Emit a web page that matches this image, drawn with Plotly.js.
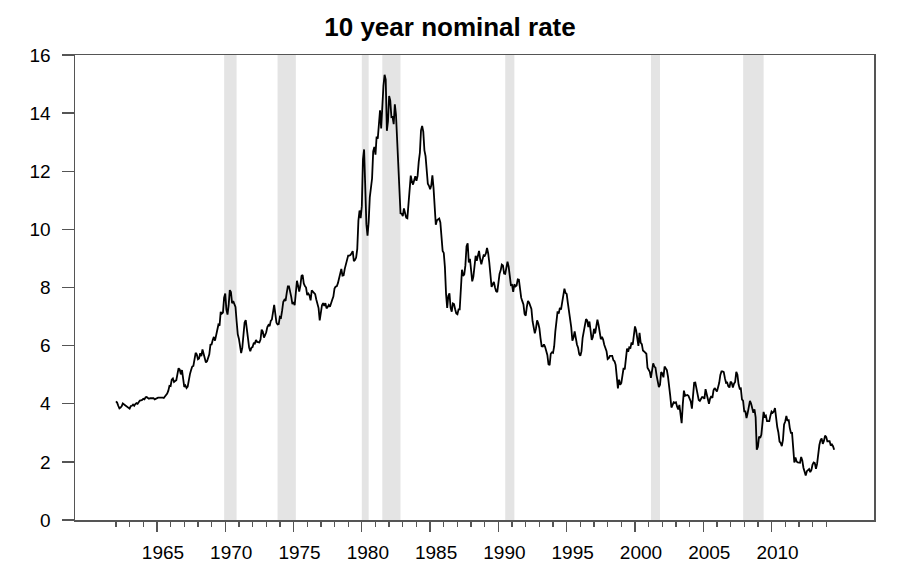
<!DOCTYPE html>
<html>
<head>
<meta charset="utf-8">
<script src="https://cdn.plot.ly/plotly-3.0.1.min.js"></script>
<style>
  html, body { margin: 0; padding: 0; background: #fff; }
  #chart { width: 900px; height: 580px; }
</style>
</head>
<body>
<div id="chart"></div>
<script>
const FIRST_YEAR = 1962;

// monthly 10 year rate, %, Jan 1962 .. Aug 2014
const rates = [
  4.08, 4.04, 3.93, 3.84, 3.87, 3.91, 4.01, 3.98, 3.98, 3.93, 3.92, 3.86, // 1962
  3.83, 3.92, 3.93, 3.97, 3.93, 3.99, 4.02, 4.00, 4.08, 4.11, 4.12, 4.13, // 1963
  4.17, 4.15, 4.22, 4.23, 4.20, 4.17, 4.19, 4.19, 4.20, 4.19, 4.15, 4.18, // 1964
  4.19, 4.21, 4.21, 4.20, 4.21, 4.21, 4.20, 4.25, 4.29, 4.35, 4.45, 4.62, // 1965
  4.61, 4.83, 4.87, 4.75, 4.78, 4.81, 5.02, 5.22, 5.18, 5.01, 5.16, 4.84, // 1966
  4.58, 4.63, 4.54, 4.59, 4.85, 5.02, 5.16, 5.28, 5.30, 5.48, 5.75, 5.70, // 1967
  5.53, 5.56, 5.74, 5.64, 5.87, 5.72, 5.50, 5.42, 5.46, 5.58, 5.70, 6.03, // 1968
  6.04, 6.19, 6.30, 6.17, 6.32, 6.57, 6.72, 6.69, 7.16, 7.10, 7.14, 7.65, // 1969
  7.79, 7.24, 7.07, 7.39, 7.91, 7.84, 7.46, 7.53, 7.39, 7.33, 6.84, 6.39, // 1970
  6.24, 6.00, 5.74, 5.93, 6.53, 6.80, 6.88, 6.58, 6.14, 5.93, 5.81, 5.93, // 1971
  5.95, 6.08, 6.07, 6.19, 6.13, 6.11, 6.11, 6.21, 6.55, 6.48, 6.28, 6.36, // 1972
  6.46, 6.64, 6.71, 6.67, 6.85, 6.90, 7.13, 7.40, 7.09, 6.79, 6.73, 6.74, // 1973
  6.99, 6.96, 7.21, 7.51, 7.58, 7.54, 7.81, 8.04, 8.04, 7.90, 7.68, 7.43, // 1974
  7.50, 7.39, 7.73, 8.23, 8.06, 7.86, 8.06, 8.40, 8.43, 8.14, 8.05, 8.00, // 1975
  7.74, 7.79, 7.73, 7.56, 7.90, 7.86, 7.83, 7.77, 7.59, 7.41, 7.29, 6.87, // 1976
  7.21, 7.39, 7.46, 7.37, 7.46, 7.28, 7.33, 7.40, 7.34, 7.52, 7.58, 7.69, // 1977
  7.96, 8.03, 8.04, 8.15, 8.35, 8.46, 8.64, 8.41, 8.42, 8.64, 8.81, 9.01, // 1978
  9.10, 9.10, 9.12, 9.18, 9.25, 8.91, 8.95, 9.03, 9.33, 10.30, 10.65, 10.39, // 1979
  10.80, 12.41, 12.75, 11.47, 10.18, 9.78, 10.25, 11.10, 11.51, 11.75, 12.68, 12.84, // 1980
  12.57, 13.19, 13.12, 13.68, 14.10, 13.47, 14.28, 14.94, 15.32, 15.15, 13.39, 13.72, // 1981
  14.59, 14.43, 13.86, 13.87, 13.62, 14.30, 13.95, 13.06, 12.34, 10.91, 10.55, 10.54, // 1982
  10.46, 10.72, 10.51, 10.40, 10.38, 10.85, 11.38, 11.85, 11.65, 11.54, 11.69, 11.83, // 1983
  11.67, 11.84, 12.32, 12.63, 13.41, 13.56, 13.36, 12.72, 12.52, 12.16, 11.57, 11.50, // 1984
  11.38, 11.51, 11.86, 11.43, 10.85, 10.16, 10.31, 10.33, 10.37, 10.24, 9.78, 9.26, // 1985
  9.19, 8.70, 7.78, 7.30, 7.71, 7.80, 7.30, 7.17, 7.45, 7.43, 7.25, 7.11, // 1986
  7.08, 7.25, 7.25, 8.02, 8.61, 8.40, 8.45, 8.76, 9.42, 9.52, 8.86, 8.99, // 1987
  8.67, 8.21, 8.37, 8.72, 9.09, 8.92, 9.06, 9.26, 8.98, 8.80, 8.96, 9.11, // 1988
  9.09, 9.17, 9.36, 9.18, 8.86, 8.28, 8.02, 8.11, 8.19, 8.01, 7.87, 7.84, // 1989
  8.21, 8.47, 8.59, 8.79, 8.76, 8.48, 8.47, 8.75, 8.89, 8.72, 8.39, 8.08, // 1990
  8.09, 7.85, 8.11, 8.04, 8.07, 8.28, 8.27, 7.90, 7.65, 7.53, 7.42, 7.09, // 1991
  7.03, 7.34, 7.54, 7.48, 7.39, 7.26, 6.84, 6.59, 6.42, 6.59, 6.87, 6.77, // 1992
  6.60, 6.26, 5.98, 5.97, 6.04, 5.96, 5.81, 5.68, 5.36, 5.33, 5.72, 5.77, // 1993
  5.75, 5.97, 6.48, 6.97, 7.18, 7.10, 7.30, 7.24, 7.46, 7.74, 7.96, 7.81, // 1994
  7.78, 7.47, 7.20, 7.06, 6.63, 6.17, 6.28, 6.49, 6.20, 6.04, 5.93, 5.71, // 1995
  5.65, 5.81, 6.27, 6.51, 6.74, 6.91, 6.87, 6.64, 6.83, 6.53, 6.20, 6.30, // 1996
  6.58, 6.42, 6.69, 6.89, 6.71, 6.49, 6.22, 6.30, 6.21, 6.03, 5.88, 5.81, // 1997
  5.54, 5.57, 5.65, 5.64, 5.65, 5.50, 5.46, 5.34, 4.81, 4.53, 4.83, 4.65, // 1998
  4.72, 5.00, 5.23, 5.18, 5.54, 5.90, 5.79, 5.94, 5.92, 6.11, 6.03, 6.28, // 1999
  6.66, 6.52, 6.26, 5.99, 6.44, 6.10, 6.05, 5.83, 5.80, 5.74, 5.72, 5.24, // 2000
  5.16, 5.10, 4.89, 5.14, 5.39, 5.28, 5.24, 4.97, 4.73, 4.57, 4.65, 5.09, // 2001
  5.04, 4.91, 5.28, 5.21, 5.16, 4.93, 4.65, 4.26, 3.87, 3.94, 4.05, 4.03, // 2002
  4.05, 3.90, 3.81, 3.96, 3.57, 3.33, 3.98, 4.45, 4.27, 4.29, 4.30, 4.27, // 2003
  4.15, 4.08, 3.83, 4.35, 4.72, 4.73, 4.50, 4.28, 4.13, 4.10, 4.19, 4.23, // 2004
  4.22, 4.17, 4.50, 4.34, 4.14, 4.00, 4.18, 4.26, 4.20, 4.46, 4.54, 4.47, // 2005
  4.42, 4.57, 4.72, 4.99, 5.11, 5.11, 5.09, 4.88, 4.72, 4.73, 4.60, 4.56, // 2006
  4.76, 4.72, 4.56, 4.69, 4.75, 5.10, 5.00, 4.67, 4.52, 4.53, 4.15, 4.10, // 2007
  3.74, 3.74, 3.51, 3.68, 3.88, 4.10, 4.01, 3.89, 3.69, 3.81, 3.53, 2.42, // 2008
  2.52, 2.87, 2.82, 2.93, 3.29, 3.72, 3.56, 3.59, 3.40, 3.39, 3.40, 3.59, // 2009
  3.73, 3.69, 3.73, 3.85, 3.42, 3.20, 3.01, 2.70, 2.65, 2.54, 2.76, 3.29, // 2010
  3.39, 3.58, 3.41, 3.46, 3.17, 3.00, 3.00, 2.30, 1.98, 2.15, 2.01, 1.98, // 2011
  1.97, 1.97, 2.17, 2.05, 1.80, 1.62, 1.53, 1.68, 1.72, 1.75, 1.65, 1.72, // 2012
  1.91, 1.98, 1.96, 1.76, 1.93, 2.30, 2.58, 2.74, 2.81, 2.62, 2.72, 2.90, // 2013
  2.86, 2.71, 2.72, 2.71, 2.56, 2.60, 2.54, 2.42                          // 2014
];

// recessions (decimal years)
const recStart = [1969.92, 1973.83, 1980.00, 1981.50, 1990.50, 2001.17, 2007.92];
const recEnd   = [1970.83, 1975.17, 1980.50, 1982.83, 1991.17, 2001.83, 2009.42];

const minorYears = [];
for (let y = 1962; y <= 2014; y++) minorYears.push(y);
const majorYears = [1965, 1970, 1975, 1980, 1985, 1990, 1995, 2000, 2005, 2010];
const yTicks = [0, 2, 4, 6, 8, 10, 12, 14, 16];

const xRange = [1959.0, 2017.5];
const FONT = 'Liberation Sans, Arial, sans-serif';
const AXIS = '#555';

const dates = rates.map((_, i) => FIRST_YEAR + i / 12);

const shapes = recStart.map((s, i) => ({
    type: 'rect', xref: 'x', yref: 'paper',
    x0: s, x1: recEnd[i], y0: 0, y1: 1,
    fillcolor: '#e4e4e4', line: { width: 0 }, layer: 'below'
}));

const traces = [
    {
        x: dates, y: rates,
        type: 'scatter', mode: 'lines',
        line: { color: '#000', width: 1.8 },
        hoverinfo: 'x+y', showlegend: false
    },
    {   // carrier for the labelled year axis
        x: [majorYears[0]], y: [null],
        xaxis: 'x2', type: 'scatter', mode: 'lines',
        hoverinfo: 'skip', showlegend: false
    }
];

const layout = {
    width: 900, height: 580,
    margin: { l: 75, r: 26, t: 55, b: 60 },
    paper_bgcolor: '#fff', plot_bgcolor: '#fff',
    font: { family: FONT, color: '#000' },
    title: {
        text: '<b>10 year nominal rate</b>',
        font: { family: FONT, size: 26, color: '#000' },
        x: 0.5, xanchor: 'center', y: 0.953, yanchor: 'middle'
    },
    xaxis: {
        range: xRange, showgrid: false, zeroline: false,
        showline: true, mirror: true, linecolor: AXIS, linewidth: 1.5,
        tickmode: 'array', tickvals: minorYears, ticktext: minorYears.map(() => ''),
        ticks: 'outside', ticklen: 5, tickwidth: 1.3, tickcolor: AXIS
    },
    xaxis2: {
        range: xRange, overlaying: 'x', anchor: 'y', side: 'bottom',
        showgrid: false, zeroline: false, showline: false,
        tickmode: 'array', tickvals: majorYears, ticktext: majorYears.map(String),
        ticks: 'outside', ticklen: 11, tickwidth: 1.3, tickcolor: AXIS,
        ticklabelshift: 6, ticklabelstandoff: 4,
        tickfont: { family: FONT, size: 19, color: '#000' }
    },
    yaxis: {
        range: [0, 16], showgrid: false, zeroline: false,
        showline: true, mirror: true, linecolor: AXIS, linewidth: 1.5,
        tickmode: 'array', tickvals: yTicks,
        ticks: 'outside', ticklen: 12, tickwidth: 1.3, tickcolor: AXIS,
        ticklabelstandoff: 7,
        tickfont: { family: FONT, size: 19, color: '#000' }
    },
    shapes: shapes
};

Plotly.newPlot('chart', traces, layout, { displayModeBar: false, staticPlot: true });
</script>
</body>
</html>
